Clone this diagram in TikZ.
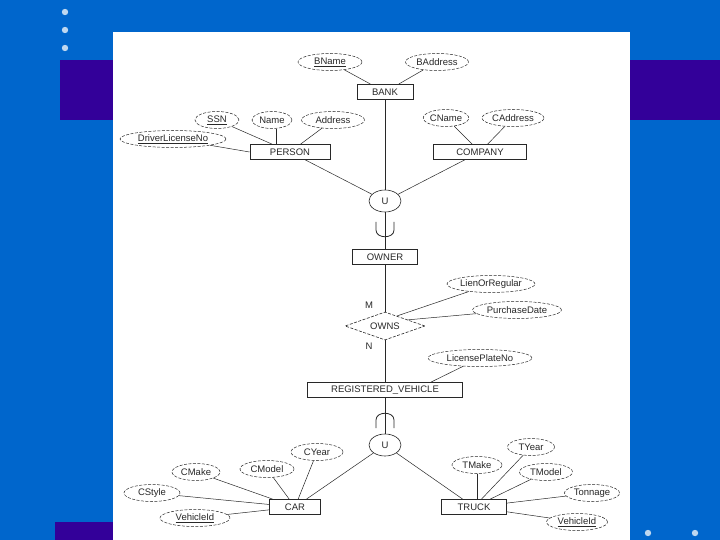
\documentclass[tikz,border=0pt]{standalone}
\usepackage{fontspec}
\setmainfont{Liberation Sans}
\usetikzlibrary{positioning, shapes.geometric}

\definecolor{slideblue}{RGB}{0,102,204}
\definecolor{slidepurple}{RGB}{51,0,153}
\definecolor{slidedot}{RGB}{190,215,240}
\definecolor{ink}{RGB}{40,40,40}

\begin{document}
\begin{tikzpicture}[x=1pt, y=-1pt,
    every node/.style={font=\fontsize{9.5}{11}\selectfont, text=ink},
    entity/.style={draw=ink, line width=0.8pt, inner sep=0pt, minimum height=15},
    attrib/.style={draw=ink, ellipse, line width=0.5pt, dash pattern=on 3pt off 1.5pt, inner sep=0pt, minimum height=17},
    unionop/.style={draw=ink, ellipse, line width=0.6pt, inner sep=0pt, minimum width=32, minimum height=22},
    relship/.style={draw=ink, diamond, aspect=2.8, line width=0.6pt, dash pattern=on 3pt off 1.5pt, inner sep=0pt, minimum width=80, minimum height=28},
    link/.style={draw=ink, line width=0.5pt},
    spine/.style={draw=ink, line width=0.8pt}]
    % slide background
    \fill [slideblue] (0,0) rectangle (720,540);
    \fill [slidepurple] (60,60) rectangle (720,120);
    \fill [slidepurple] (55,522) rectangle (113,540);
    \fill [white] (113,32) rectangle (630,540);
    \foreach \y in {12,30,48} \fill [slidedot] (65,\y) circle (3.2);
    \foreach \x in {648,695} \fill [slidedot] (\x,533) circle (3.2);

    % superclasses
    \node (BName) [attrib, minimum width=64] at (330,62) {\underline{BName}};
    \node (BAddress) [attrib, minimum width=63] at (437,62) {BAddress};
    \node (BANK) [entity, minimum width=56, minimum height=15] at (385,92) {BANK};
    \node (SSN) [attrib, minimum width=44] at (217,120) {\underline{SSN}};
    \node (Name) [attrib, minimum width=40] at (272,120) {Name};
    \node (Address) [attrib, minimum width=63] at (333,120) {Address};
    \node (DLNo) [attrib, minimum width=106] at (173,139) {\underline{DriverLicenseNo}};
    \node (PERSON) [entity, minimum width=80] at (290,152) {PERSON};
    \node (CName) [attrib, minimum width=44] at (446,118) {CName};
    \node (CAddress) [attrib, minimum width=62] at (513,118) {CAddress};
    \node (COMPANY) [entity, minimum width=93] at (480,152) {COMPANY};

    % category OWNER
    \node (U1) [unionop] at (385,201) {U};
    \node (OWNER) [entity, minimum width=65] at (385,257) {OWNER};
    \node (OWNS) [relship] at (385,326) {OWNS};
    \node (M) at (369,305) {M};
    \node (N) at (369,346) {N};
    \node (LienOrRegular) [attrib, minimum width=88] at (491,284) {LienOrRegular};
    \node (PurchaseDate) [attrib, minimum width=89] at (517,310) {PurchaseDate};
    \node (LicensePlateNo) [attrib, minimum width=104] at (480,358) {LicensePlateNo};
    \node (RV) [entity, minimum width=155] at (385,390) {REGISTERED\_VEHICLE};

    % subclasses
    \node (U2) [unionop] at (385,445) {U};
    \node (CAR) [entity, minimum width=51] at (295,507) {CAR};
    \node (TRUCK) [entity, minimum width=65] at (474,507) {TRUCK};
    \node (CYear) [attrib, minimum width=52] at (317,452) {CYear};
    \node (CModel) [attrib, minimum width=54] at (267,469) {CModel};
    \node (CMake) [attrib, minimum width=48] at (196,472) {CMake};
    \node (CStyle) [attrib, minimum width=56] at (152,493) {CStyle};
    \node (CVid) [attrib, minimum width=70] at (195,518) {\underline{VehicleId}};
    \node (TYear) [attrib, minimum width=47] at (531,447) {TYear};
    \node (TMake) [attrib, minimum width=50] at (477,465) {TMake};
    \node (TModel) [attrib, minimum width=53] at (546,472) {TModel};
    \node (Tonnage) [attrib, minimum width=55] at (592,493) {Tonnage};
    \node (TVid) [attrib, minimum width=61] at (577,522) {\underline{VehicleId}};

    % attribute links
    \draw [link] (BName) -- (BANK);
    \draw [link] (BAddress) -- (BANK);
    \draw [link] (SSN) -- (PERSON);
    \draw [link] (Name.-65) -- (Name.-65 |- PERSON.north);
    \draw [link] (Address) -- (PERSON);
    \draw [link] (DLNo) -- (PERSON.west);
    \draw [link] (CName) -- (COMPANY);
    \draw [link] (CAddress) -- (COMPANY);
    \draw [link] (OWNS.40) -- (LienOrRegular);
    \draw [link] (OWNS.15) -- (PurchaseDate);
    \draw [link] (LicensePlateNo) -- ([xshift=46]RV.north);
    \draw [link] (CYear) -- (CAR);
    \draw [link] (CModel) -- (CAR);
    \draw [link] (CMake) -- (CAR);
    \draw [link] (CStyle) -- (CAR);
    \draw [link] (CVid) -- (CAR);
    \draw [link] (TYear) -- (TRUCK);
    \draw [link] (TMake) -- (TMake |- TRUCK.north);
    \draw [link] (TModel) -- (TRUCK);
    \draw [link] (Tonnage) -- (TRUCK);
    \draw [link] (TVid) -- (TRUCK);

    % union and relationship links
    \draw [spine] (BANK) -- (U1);
    \draw [link] (PERSON) -- (U1);
    \draw [link] (COMPANY) -- (U1);
    \draw [spine] (U1) -- (OWNER);
    \draw [spine] (OWNER) -- (OWNS);
    \draw [spine] (OWNS) -- (RV);
    \draw [spine] (RV) -- (U2);
    \draw [link] (U2) -- (CAR);
    \draw [link] (U2) -- (TRUCK);

    % subset marks
    \draw [spine] (376,222) -- (376,230) .. controls (376,239) and (394,239) .. (394,230) -- (394,222);
    \draw [spine] (376,428) -- (376,420) .. controls (376,411) and (394,411) .. (394,420) -- (394,428);
\end{tikzpicture}
\end{document}
